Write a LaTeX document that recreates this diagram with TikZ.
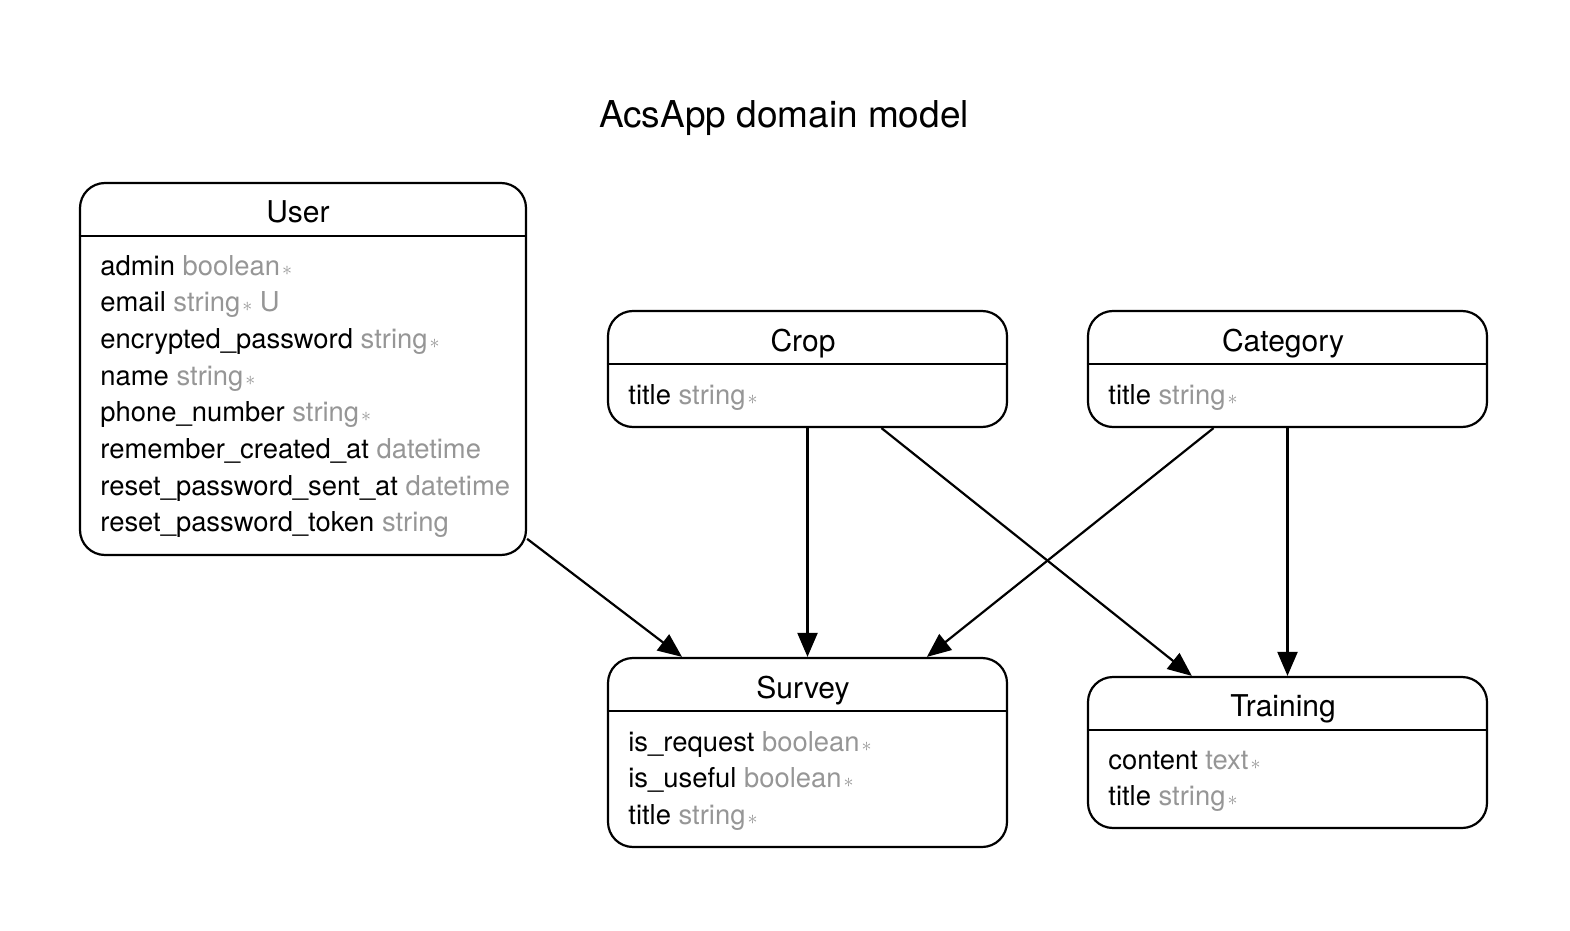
\documentclass[tikz,border=0pt]{standalone}
\usepackage{fontspec}
\setmainfont{TeX Gyre Heros}
\usetikzlibrary{arrows.meta}
\definecolor{typegray}{RGB}{150,150,150}
\newcommand\fld[2]{#1 \textcolor{typegray}{#2}}
\newcommand\reqmark{\textcolor{typegray}{\kern1pt{\fontsize{10}{10}\selectfont$\ast$}}}
\begin{document}
\begin{tikzpicture}[x=0.5pt,y=-0.5pt,
 entity/.style={draw,line width=1.1pt,rounded corners=12.5pt,inner sep=0pt},
 hdr/.style={font=\fontsize{15}{18}\selectfont,anchor=base,inner sep=0pt},
 row/.style={font=\fontsize{13.7}{16}\selectfont,anchor=base west,inner sep=0pt},
 sepline/.style={line width=1.1pt},
 rel/.style={line width=1.1pt,-{Triangle[length=12pt,width=10pt]}}]
\useasboundingbox (0,0) rectangle (1570,931);
\node[font=\fontsize{18.5}{22}\selectfont,anchor=base,inner sep=0pt] (title) at (784,127) {AcsApp domain model};

% User
\node[entity,minimum width=223pt,minimum height=186pt] (user) at (303,369) {};
\draw[sepline] (user.west |- 0,236) -- (user.east |- 0,236);
\node[hdr] (userh) at (298,222) {User};
\node[row] (u1) at (100,275) {\fld{admin}{boolean}\reqmark};
\node[row] (u2) at (100,311.7) {\fld{email}{string\reqmark\ U}};
\node[row] (u3) at (100,348.4) {\fld{encrypted\_password}{string}\reqmark};
\node[row] (u4) at (100,385.1) {\fld{name}{string}\reqmark};
\node[row] (u5) at (100,421.8) {\fld{phone\_number}{string}\reqmark};
\node[row] (u6) at (100,458.5) {\fld{remember\_created\_at}{datetime}};
\node[row] (u7) at (100,495.2) {\fld{reset\_password\_sent\_at}{datetime}};
\node[row] (u8) at (100,531.9) {\fld{reset\_password\_token}{string}};

% Crop
\node[entity,minimum width=199.5pt,minimum height=58pt] (crop) at (807.5,369) {};
\draw[sepline] (crop.west |- 0,364) -- (crop.east |- 0,364);
\node[hdr] (croph) at (803,351) {Crop};
\node[row] (c1) at (628,404) {\fld{title}{string}\reqmark};

% Category
\node[entity,minimum width=199.5pt,minimum height=58pt] (category) at (1287.5,369) {};
\draw[sepline] (category.west |- 0,364) -- (category.east |- 0,364);
\node[hdr] (categoryh) at (1283,351) {Category};
\node[row] (k1) at (1108,404) {\fld{title}{string}\reqmark};

% Survey
\node[entity,minimum width=199.5pt,minimum height=94.5pt] (survey) at (807.5,752.5) {};
\draw[sepline] (survey.west |- 0,711) -- (survey.east |- 0,711);
\node[hdr] (surveyh) at (803,698) {Survey};
\node[row] (s1) at (628,751) {\fld{is\_request}{boolean}\reqmark};
\node[row] (s2) at (628,787.7) {\fld{is\_useful}{boolean}\reqmark};
\node[row] (s3) at (628,824.4) {\fld{title}{string}\reqmark};

% Training
\node[entity,minimum width=199.5pt,minimum height=75.5pt] (training) at (1287.5,752.5) {};
\draw[sepline] (training.west |- 0,730) -- (training.east |- 0,730);
\node[hdr] (trainingh) at (1283,716) {Training};
\node[row] (t1) at (1108,769) {\fld{content}{text}\reqmark};
\node[row] (t2) at (1108,805.7) {\fld{title}{string}\reqmark};

% relations
\draw[rel] (user) -- (survey);
\draw[rel] (crop) -- (survey);
\draw[rel] (crop) -- (training);
\draw[rel] (category) -- (survey);
\draw[rel] (category) -- (training);
\end{tikzpicture}
\end{document}
